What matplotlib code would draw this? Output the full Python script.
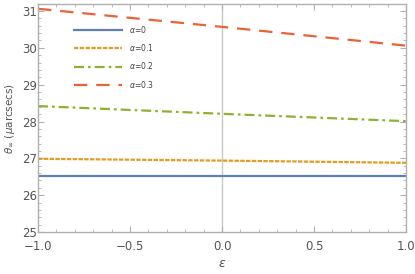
import numpy as np
import matplotlib.pyplot as plt
from matplotlib.ticker import MultipleLocator

eps = [-1.0, 0.0, 1.0]
theta_a0 = [26.53, 26.53, 26.53]
theta_a1 = [26.99, 26.94, 26.88]
theta_a2 = [28.42, 28.21, 28.01]
theta_a3 = [31.06, 30.57, 30.06]
labels = [r'$\alpha$=0', r'$\alpha$=0.1', r'$\alpha$=0.2', r'$\alpha$=0.3']

fig = plt.figure(figsize=(4.15, 2.74), dpi=100)
ax = fig.add_axes([0.0916, 0.153, 0.887, 0.831])

ax.axvline(0, color='#c8c8c8', lw=1.0, zorder=0)
ax.plot(eps, theta_a0, color='#5E81B5', lw=1.6, label=labels[0])
ax.plot(eps, theta_a1, color='#E19C24', lw=1.6, dashes=(2.0, 0.6), label=labels[1])
ax.plot(eps, theta_a2, color='#8FB032', lw=1.6, dashes=(4.5, 1.8, 1.2, 1.8), label=labels[2])
ax.plot(eps, theta_a3, color='#EB6235', lw=1.6, dashes=(6, 4), label=labels[3])

ax.set_xlim(-1, 1)
ax.set_ylim(25, 31.18)
ax.xaxis.set_major_locator(MultipleLocator(0.5))
ax.xaxis.set_minor_locator(MultipleLocator(0.1))
ax.yaxis.set_major_locator(MultipleLocator(1))
ax.yaxis.set_minor_locator(MultipleLocator(0.2))
ax.tick_params(which='both', direction='in', color='#b0b0b0', top=True, right=True,
               labelcolor='#555555', labelsize=8.5)
ax.tick_params(axis='x', pad=5.5)
ax.tick_params(axis='y', pad=1)
ax.tick_params(which='major', length=4, width=0.8)
ax.tick_params(which='minor', length=2, width=0.6)
ax.xaxis.set_major_formatter(plt.FuncFormatter(lambda v, p: f'{v:.1f}'.replace('-', '\u2212')))
for s in ax.spines.values():
    s.set_color('#b0b0b0')
    s.set_linewidth(1.0)

ax.set_xlabel(r'$\epsilon$', color='#555555', fontsize=9, labelpad=3)
ax.set_ylabel(r'$\theta_\infty$ ($\mu$arcsecs)', color='#555555', fontsize=7.5)
ax.yaxis.set_label_coords(-0.056, 0.5)

ax.legend(loc='upper left', bbox_to_anchor=(0.08, 0.945), frameon=False, fontsize=5.5,
          handlelength=6.2, handletextpad=0.9, labelspacing=0.95, labelcolor='#444444')

plt.savefig('out.png', dpi=100)
